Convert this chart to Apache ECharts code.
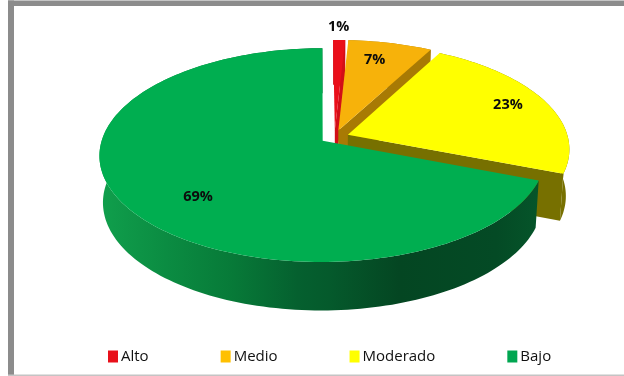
<!DOCTYPE html>
<html>
<head>
<meta charset="utf-8">
<style>html,body{margin:0;padding:0;background:#fff}#chart{width:624px;height:376px}</style>
<script src="https://cdn.jsdelivr.net/npm/echarts@6/dist/echarts.min.js"></script>
</head>
<body>
<div id="chart"></div>
<script>
// Risk levels and their shares of the whole, in percent
const categories = ['Alto', 'Medio', 'Moderado', 'Bajo'];
const shares = [1, 7, 23, 69];

const topColors = ['#ea0f1a', '#f7b20a', '#ffff00', '#00ae50'];
const legendColors = ['#e8101a', '#ffc000', '#ffff00', '#00a651'];
const wallColors = ['#d20e17', '#a87a04', '#777000', '#05592b'];

// Polar anchor of each percentage label: radius fraction, clockwise degrees from 12 o'clock
const labelRadius = [1.17, 0.786, 0.82, 0.72];
const labelAngle = [1, 13.6, 68.2, 226.6];

// Tilted-disc projection: perspective foreshortening toward the back of the pie
const pie = { cx: 334.5, cy: 137, rx: 220, ry: 104, persp: 0.132, explode: 0.065, rotate: -0.5,
              depth: 46.5, shrinkX: 0.985, growY: 1.016 };

function project(u, v) {
  const w = 1 + pie.persp * v;
  return [pie.cx + pie.rx * u / w, pie.cy - pie.ry * v / w];
}
function lower(p) {
  return [pie.cx + (p[0] - pie.cx) * pie.shrinkX, pie.cy + (p[1] - pie.cy) * pie.growY + pie.depth];
}
const rad = d => d * Math.PI / 180;

const total = shares.reduce((a, b) => a + b, 0);

function renderSlice(index, params, api) {
  const value = api.value(0);
  const before = shares.slice(0, index).reduce((a, b) => a + b, 0);
  const start = before / total * 360 + pie.rotate;
  const end = start + value / total * 360;
  const mid = (start + end) / 2;
  const ox = pie.explode * Math.sin(rad(mid));
  const oy = pie.explode * Math.cos(rad(mid));
  const at = (deg, r) => project(ox + r * Math.sin(rad(deg)), oy + r * Math.cos(rad(deg)));

  const rim = [];
  const steps = Math.max(2, Math.ceil((end - start) / 1.5));
  for (let i = 0; i <= steps; i++) rim.push(at(start + (end - start) * i / steps, 1));
  const apex = at(0, 0);
  const children = [];

  const wallFill = index === shares.length - 1
    ? { type: 'linear', x: 100, y: 0, x2: 540, y2: 0, global: true, colorStops: [
        { offset: 0, color: '#109f4c' },
        { offset: 0.15, color: '#0b8c42' },
        { offset: 0.3, color: '#077a38' },
        { offset: 0.45, color: '#05602f' },
        { offset: 0.52, color: '#055a2c' },
        { offset: 0.68, color: '#044622' },
        { offset: 0.9, color: '#044a25' },
        { offset: 1, color: '#05552a' }
      ] }
    : wallColors[index];

  // Cut face on the clockwise side; the last slice closes the circle so it has none in view
  if (index < shares.length - 1) {
    const edge = rim[rim.length - 1];
    children.push({ type: 'polygon', shape: { points: [apex, edge, lower(edge), lower(apex)] },
      style: { fill: wallColors[index] } });
  }
  // Outer wall swept along the rim
  children.push({ type: 'polygon', shape: { points: rim.concat(rim.map(lower).reverse()) },
    style: { fill: wallFill } });
  // Top surface
  children.push({ type: 'polygon', shape: { points: [apex].concat(rim) },
    style: { fill: topColors[index] } });

  const lp = project(ox + labelRadius[index] * Math.sin(rad(labelAngle[index])),
                     oy + labelRadius[index] * Math.cos(rad(labelAngle[index])));
  children.push({ type: 'text', z2: 10, style: {
    text: value + '%', x: lp[0], y: lp[1], align: 'center', verticalAlign: 'middle',
    font: 'bold 14.5px "Open Sans", sans-serif', fill: '#0c0c0c' } });
  return { type: 'group', children };
}

const chart = echarts.init(document.getElementById('chart'), null, { renderer: 'canvas' });
chart.setOption({
  animation: false,
  backgroundColor: '#ffffff',
  legend: {
    left: 103, top: 344, itemGap: 72, itemWidth: 10, itemHeight: 12, icon: 'rect',
    textStyle: { color: '#111', fontSize: 15, fontFamily: '"Open Sans", sans-serif', padding: [0, 0, 0, -2] },
    data: categories.map((name, i) => ({ name, itemStyle: { color: legendColors[i] } }))
  },
  graphic: [
    { type: 'rect', silent: true, z: 100, shape: { x: 8, y: 0.5, width: 6, height: 376 }, style: { fill: '#8c8c8c' } },
    { type: 'rect', silent: true, z: 100, shape: { x: 8, y: 0.5, width: 616, height: 5.5 }, style: { fill: '#8c8c8c' } },
    { type: 'rect', silent: true, z: 100, shape: { x: 8, y: 374.5, width: 616, height: 1.5 }, style: { fill: '#c4c4c4' } }
  ],
  series: categories.map((name, i) => ({
    type: 'custom',
    name,
    coordinateSystem: 'none',
    silent: true,
    itemStyle: { color: legendColors[i] },
    data: [[shares[i]]],
    renderItem: (params, api) => renderSlice(i, params, api)
  }))
});
</script>
</body>
</html>
